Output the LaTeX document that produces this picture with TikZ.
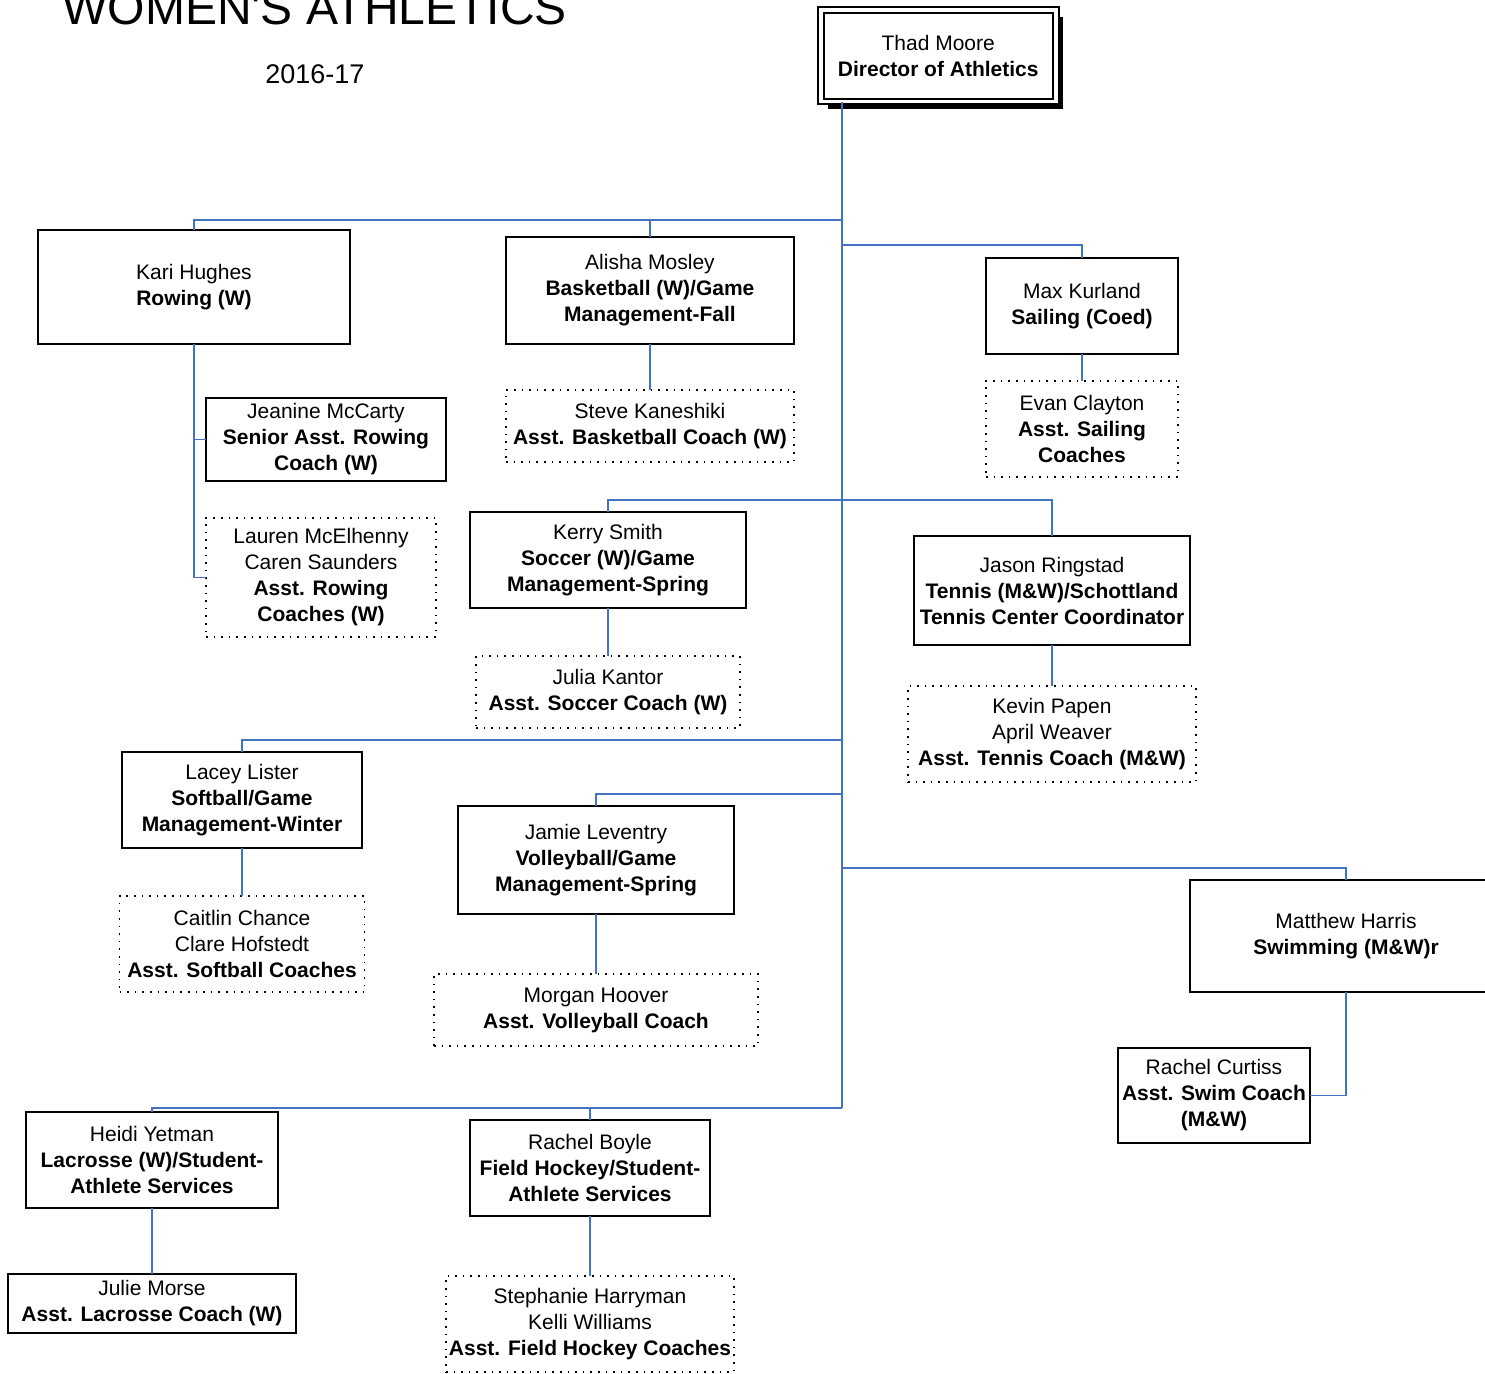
\documentclass[tikz,border=0pt]{standalone}
\usepackage{fontspec}
\setmainfont{Liberation Sans}
\usetikzlibrary{positioning, shadows}
\definecolor{linkblue}{RGB}{68,114,196}

\begin{document}
\begin{tikzpicture}[x=0.5pt, y=-0.5pt,
    person/.style={draw, line width=1pt, align=center, inner sep=0pt, outer sep=0pt, font=\fontsize{10.5}{13}\selectfont},
    assist/.style={person, line width=0.8pt, dash pattern=on 0.8pt off 3pt},
    link/.style={draw=linkblue, line width=0.9pt}]
    \useasboundingbox (0,0) rectangle (1485,1373);
    \node [anchor=base west, inner sep=0pt, font=\fontsize{24}{28}\selectfont] (title) at (62,24.5) {WOMEN\textquotesingle S ATHLETICS};
    \node [anchor=base west, inner sep=0pt, font=\fontsize{13.5}{16}\selectfont] (season) at (265,83) {2016-17};
    \node [person, double, double distance=1.75pt, fill=white, drop shadow={shadow xshift=3.5pt, shadow yshift=-3.5pt, fill=black, opacity=1}, minimum width=117.5pt, minimum height=45.75pt] (director) at (938.25,55.75) {Thad Moore\\\textbf{Director of Athletics}};

    \node [person, minimum width=156pt, minimum height=57pt] (kari) at (194,287) {Kari Hughes\\\textbf{Rowing (W)}};
    \node [person, minimum width=120pt, minimum height=41.5pt] (jeanine) at (326,439.5) {Jeanine McCarty\\\textbf{Senior Asst. Rowing}\\\textbf{Coach (W)}};
    \node [assist, minimum width=115pt, minimum height=59.5pt] (lauren) at (321,577.5) {Lauren McElhenny\\Caren Saunders\\\textbf{Asst. Rowing}\\\textbf{Coaches (W)}};

    \node [person, minimum width=144pt, minimum height=53.5pt] (alisha) at (650,290.5) {Alisha Mosley\\\textbf{Basketball (W)/Game}\\\textbf{Management-Fall}};
    \node [assist, below=23pt of alisha, minimum width=144pt, minimum height=36pt] (steve) {Steve Kaneshiki\\\textbf{Asst. Basketball Coach (W)}};

    \node [person, minimum width=96pt, minimum height=48pt] (max) at (1082,306) {Max Kurland\\\textbf{Sailing (Coed)}};
    \node [assist, below=13.5pt of max, minimum width=96pt, minimum height=48pt] (evan) {Evan Clayton\\\textbf{Asst. Sailing}\\\textbf{Coaches}};

    \node [person, minimum width=138pt, minimum height=48pt] (kerry) at (608,560) {Kerry Smith\\\textbf{Soccer (W)/Game}\\\textbf{Management-Spring}};
    \node [assist, below=24pt of kerry, minimum width=132pt, minimum height=36pt] (julia) {Julia Kantor\\\textbf{Asst. Soccer Coach (W)}};

    \node [person, minimum width=138pt, minimum height=54.5pt] (jason) at (1052,590.5) {Jason Ringstad\\\textbf{Tennis (M\&W)/Schottland}\\\textbf{Tennis Center Coordinator}};
    \node [assist, below=20.5pt of jason, minimum width=144pt, minimum height=48pt] (kevin) {Kevin Papen\\April Weaver\\\textbf{Asst. Tennis Coach (M\&W)}};

    \node [person, minimum width=120pt, minimum height=48pt] (lacey) at (242,800) {Lacey Lister\\\textbf{Softball/Game}\\\textbf{Management-Winter}};
    \node [assist, below=24pt of lacey, minimum width=122.5pt, minimum height=48pt] (caitlin) {Caitlin Chance\\Clare Hofstedt\\\textbf{Asst. Softball Coaches}};

    \node [person, minimum width=138pt, minimum height=54pt] (jamie) at (596,860) {Jamie Leventry\\\textbf{Volleyball/Game}\\\textbf{Management-Spring}};
    \node [assist, below=30pt of jamie, minimum width=162pt, minimum height=36pt] (morgan) {Morgan Hoover\\\textbf{Asst. Volleyball Coach}};

    \node [person, minimum width=156pt, minimum height=56pt] (matthew) at (1346,936) {Matthew Harris\\\textbf{Swimming (M\&W)r}};
    \node [person, minimum width=96pt, minimum height=47.5pt] (curtiss) at (1214,1095.5) {Rachel Curtiss\\\textbf{Asst. Swim Coach}\\\textbf{(M\&W)}};

    \node [person, minimum width=126pt, minimum height=48pt] (heidi) at (152,1160) {Heidi Yetman\\\textbf{Lacrosse (W)/Student-}\\\textbf{Athlete Services}};
    \node [person, below=33pt of heidi, minimum width=144pt, minimum height=29.5pt] (julie) {Julie Morse\\\textbf{Asst. Lacrosse Coach (W)}};

    \node [person, minimum width=120pt, minimum height=48pt] (boyle) at (590,1168) {Rachel Boyle\\\textbf{Field Hockey/Student-}\\\textbf{Athlete Services}};
    \node [assist, below=30pt of boyle, minimum width=144pt, minimum height=48pt] (stephanie) {Stephanie Harryman\\Kelli Williams\\\textbf{Asst. Field Hockey Coaches}};

    \coordinate (trunk) at (842,0);
    \coordinate (busA) at (842,220);
    \coordinate (busB) at (842,245);
    \coordinate (busC) at (842,500);
    \coordinate (busD) at (842,740);
    \coordinate (busE) at (842,794);
    \coordinate (busF) at (842,868);
    \coordinate (busG) at (842,1108);

    \draw [link] (director.south -| trunk) -- (busG);
    \draw [link] (kari.north) |- (busA);
    \draw [link] (alisha.north) -- (alisha.north |- busA);
    \draw [link] (max.north) |- (busB);
    \draw [link] (kari.south) |- (jeanine.west);
    \draw [link] (kari.south) |- (lauren.west);
    \draw [link] (alisha.south) -- (steve.north);
    \draw [link] (max.south) -- (evan.north);
    \draw [link] (kerry.north) |- (busC);
    \draw [link] (jason.north) |- (busC);
    \draw [link] (kerry.south) -- (julia.north);
    \draw [link] (jason.south) -- (kevin.north);
    \draw [link] (lacey.north) |- (busD);
    \draw [link] (lacey.south) -- (caitlin.north);
    \draw [link] (jamie.north) |- (busE);
    \draw [link] (jamie.south) -- (morgan.north);
    \draw [link] (matthew.north) |- (busF);
    \draw [link] (matthew.south) |- (curtiss.east);
    \draw [link] (heidi.north) |- (busG);
    \draw [link] (boyle.north) -- (boyle.north |- busG);
    \draw [link] (heidi.south) -- (julie.north);
    \draw [link] (boyle.south) -- (stephanie.north);
\end{tikzpicture}
\end{document}
